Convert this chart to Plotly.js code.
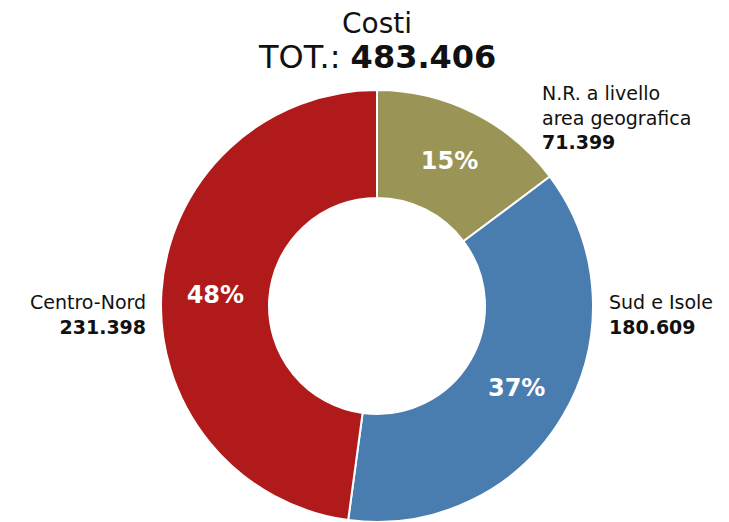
<!DOCTYPE html>
<html>
<head>
<meta charset="utf-8">
<script src="https://cdn.plot.ly/plotly-3.0.1.min.js"></script>
<style>html,body{margin:0;padding:0;background:#fff;overflow:hidden}#chart{width:729px;height:522px}</style>
</head>
<body>
<div id="chart"></div>
<script>
const labels = ['N.R. a livello<br>area geografica', 'Sud e Isole', 'Centro-Nord'];
const values = [71399, 180609, 231398];
const valueLabels = ['71.399', '180.609', '231.398'];
const totalLabel = '483.406';
const colors = ['#9a9456', '#4a7daf', '#b01a1a'];

const W = 729, H = 522;
const px = (x) => x / W;
const py = (y) => 1 - y / H;
const FONT = '"DejaVu Sans", sans-serif';

const trace = {
  type: 'pie',
  labels: labels,
  values: values,
  sort: false,
  direction: 'clockwise',
  rotation: 0,
  hole: 0.5,
  marker: {colors: colors, line: {color: '#ffffff', width: 2}},
  texttemplate: '<b>%{percent:.0%}</b>',
  textposition: 'inside',
  insidetextorientation: 'horizontal',
  textfont: {family: FONT, size: 24, color: '#ffffff'},
  domain: {x: [px(160), px(594)], y: [0, py(90)]},
  showlegend: false,
  hoverinfo: 'label+value+percent'
};

const annotations = [
  {x: px(377), y: py(23), text: 'Costi', font: {family: FONT, size: 28, color: '#111'}},
  {x: px(377), y: py(57), text: 'TOT.: <b>' + totalLabel + '</b>', font: {family: FONT, size: 32, color: '#111'}},
  {x: px(540), y: py(117), xanchor: 'left', align: 'left',
   text: labels[0] + '<br><b>' + valueLabels[0] + '</b>', font: {family: FONT, size: 19, color: '#111'}},
  {x: px(607), y: py(314), xanchor: 'left', align: 'left',
   text: labels[1] + '<br><b>' + valueLabels[1] + '</b>', font: {family: FONT, size: 19, color: '#111'}},
  {x: px(148), y: py(314), xanchor: 'right', align: 'right',
   text: labels[2] + '<br><b>' + valueLabels[2] + '</b>', font: {family: FONT, size: 19, color: '#111'}}
].map(a => Object.assign({xref: 'paper', yref: 'paper', showarrow: false, yanchor: 'middle', xanchor: a.xanchor || 'center'}, a));

const layout = {
  width: W, height: H,
  margin: {l: 0, r: 0, t: 0, b: 0},
  paper_bgcolor: '#ffffff',
  annotations: annotations
};

Plotly.newPlot('chart', [trace], layout, {displayModeBar: false, staticPlot: true});
</script>
</body>
</html>
